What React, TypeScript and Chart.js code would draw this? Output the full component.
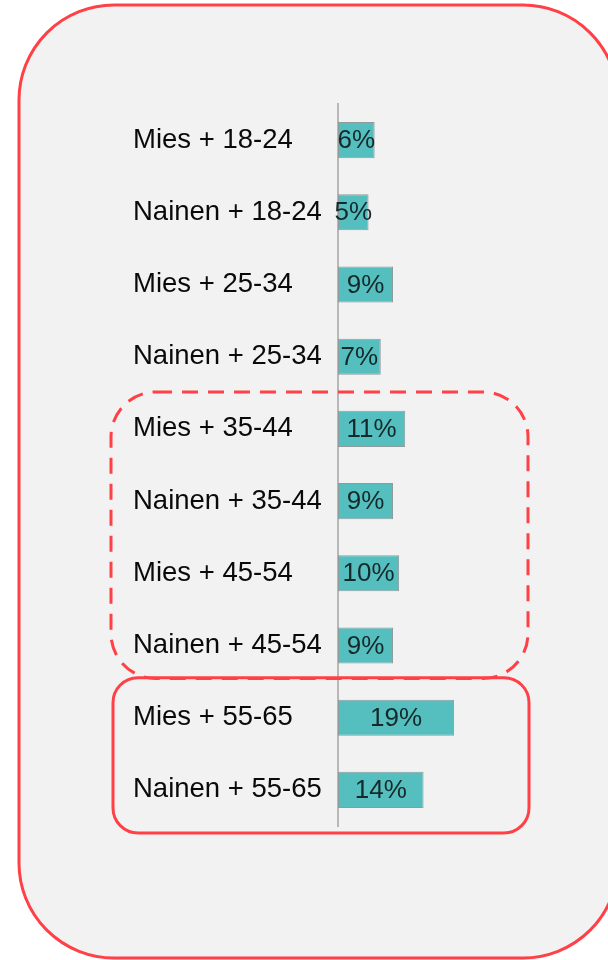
import React, { useEffect, useRef } from "react";
import { Chart, registerables } from "chart.js";

Chart.register(...registerables);

const categories = [
  "Mies + 18-24",
  "Nainen + 18-24",
  "Mies + 25-34",
  "Nainen + 25-34",
  "Mies + 35-44",
  "Nainen + 35-44",
  "Mies + 45-54",
  "Nainen + 45-54",
  "Mies + 55-65",
  "Nainen + 55-65",
];
const shares = [6, 5, 9, 7, 11, 9, 10, 9, 19, 14];

const FONT = "'Liberation Sans', Arial, sans-serif";

function roundRect(ctx: CanvasRenderingContext2D, x: number, y: number, w: number, h: number, r: number) {
  ctx.beginPath();
  ctx.moveTo(x + r, y);
  ctx.lineTo(x + w - r, y);
  ctx.arcTo(x + w, y, x + w, y + r, r);
  ctx.lineTo(x + w, y + h - r);
  ctx.arcTo(x + w, y + h, x + w - r, y + h, r);
  ctx.lineTo(x + r, y + h);
  ctx.arcTo(x, y + h, x, y + h - r, r);
  ctx.lineTo(x, y + r);
  ctx.arcTo(x, y, x + r, y, r);
  ctx.closePath();
}

const backgroundPlugin = {
  id: "bgPanel",
  beforeDraw(chart: any) {
    const ctx = chart.ctx;
    ctx.save();
    ctx.fillStyle = "#ffffff";
    ctx.fillRect(0, 0, chart.width, chart.height);
    roundRect(ctx, 19, 5, 599, 953, 95);
    ctx.fillStyle = "#f2f2f2";
    ctx.fill();
    ctx.lineWidth = 3;
    ctx.strokeStyle = "#ff4046";
    ctx.stroke();
    ctx.restore();
  },
};

const valueLabelPlugin = {
  id: "valueLabels",
  afterDatasetsDraw(chart: any) {
    const ctx = chart.ctx;
    const meta = chart.getDatasetMeta(0);
    const data = chart.data.datasets[0].data;
    ctx.save();
    ctx.font = `26px ${FONT}`;
    ctx.fillStyle = "#15292a";
    ctx.textAlign = "center";
    ctx.textBaseline = "middle";
    meta.data.forEach((el: any, i: number) => {
      const x = (el.x + el.base) / 2;
      ctx.fillText(`${data[i]}%`, x, el.y + 1);
    });
    ctx.restore();
  },
};

const highlightPlugin = {
  id: "highlights",
  afterDraw(chart: any) {
    const ctx = chart.ctx;
    const y = chart.scales.y;
    const left = 111;
    const right = 528;
    ctx.save();
    ctx.strokeStyle = "#ff4046";
    ctx.lineWidth = 3;
    const dTop = y.getPixelForValue(4) - 37;
    const dBottom = y.getPixelForValue(7) + 33;
    ctx.setLineDash([16, 10]);
    roundRect(ctx, left, dTop, right - left, dBottom - dTop, 45);
    ctx.stroke();
    ctx.setLineDash([]);
    const sTop = y.getPixelForValue(8) - 40;
    const sBottom = y.getPixelForValue(9) + 43;
    roundRect(ctx, left + 2, sTop, right - left - 1, sBottom - sTop, 25);
    ctx.stroke();
    ctx.restore();
  },
};

export default function App() {
  const ref = useRef<HTMLCanvasElement>(null);
  useEffect(() => {
    if (!ref.current) return;
    const chart = new Chart(ref.current, {
      type: "bar",
      data: {
        labels: categories,
        datasets: [
          {
            data: shares,
            backgroundColor: "#55bfc0",
            borderColor: "#8f9c9c",
            borderWidth: 1,
            borderSkipped: false,
            barPercentage: 0.5,
            categoryPercentage: 1,
          },
        ],
      },
      options: {
        indexAxis: "y",
        animation: false,
        responsive: false,
        layout: { padding: { left: 133, right: 28, top: 104, bottom: 134 } },
        plugins: { legend: { display: false }, tooltip: { enabled: false } },
        scales: {
          x: { display: false, min: 0, max: 39.6 },
          y: {
            grid: { display: false },
            border: { display: true, color: "#b8b8b8", width: 2 },
            ticks: {
              crossAlign: "far",
              color: "#0a0a0a",
              font: { size: 27.5, family: FONT },
            },
            afterFit(scale: any) {
              scale.width = 205;
            },
          },
        },
      },
      plugins: [backgroundPlugin, valueLabelPlugin, highlightPlugin],
    });
    return () => chart.destroy();
  }, []);
  return (
    <div style={{ position: "absolute", left: 0, top: 0, width: 608, height: 960 }}>
      <canvas ref={ref} width={608} height={960} style={{ display: "block" }} />
    </div>
  );
}
